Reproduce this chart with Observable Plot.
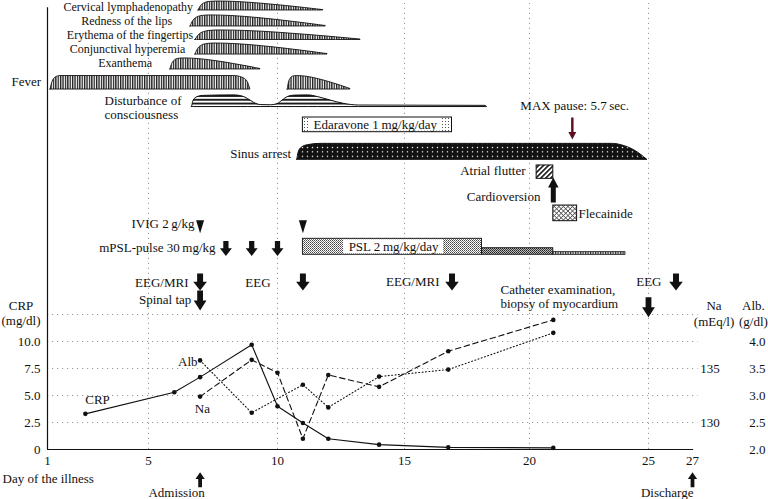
<!DOCTYPE html>
<html><head><meta charset="utf-8">
<script src="https://cdn.jsdelivr.net/npm/d3@7"></script>
<script src="https://cdn.jsdelivr.net/npm/@observablehq/plot@0.6"></script>
<style>
html,body{margin:0;padding:0;background:#fff;}
#chart{width:768px;height:499px;overflow:hidden;}
</style></head><body><div id="chart"></div>
<script>
// ================= DATA =================
const xTicks = [1, 5, 10, 15, 20, 25, 27];          // day-of-illness tick labels
const crpTicks = [0, 2.5, 5, 7.5, 10];
const naTicks = [130, 135];
const albTicks = [2.0, 2.5, 3.0, 3.5, 4.0];

const crpDays = [2.5, 6, 7, 9, 10, 11, 12, 14, 16.75, 21];
const crpValues = [3.3, 5.3, 6.7, 9.7, 4.0, 2.45, 1.0, 0.45, 0.2, 0.15];
const naDays = [7, 9, 10, 11, 12, 14, 16.75, 21];
const naValues = [132.4, 135.8, 134.6, 128.5, 134.4, 133.3, 136.6, 139.5];
const albDays = [7, 9, 11, 12, 14, 16.75, 21];
const albValues = [3.65, 2.68, 3.2, 2.78, 3.35, 3.48, 4.16];

const symptomNames = ["Cervical lymphadenopathy", "Redness of the lips", "Erythema of the fingertips",
  "Conjunctival hyperemia", "Exanthema", "Fever", "Fever"];
const symptomStart = [6.94, 6.63, 6.82, 6.82, 5.85, 1.12, 10.4];
const symptomEnd = [11.8, 11.9, 13.27, 11.97, 9.34, 8.95, 12.87];
const symptomCourse = ["taper", "taper", "taper", "taper", "taper", "plateau", "taper"];

// relative intensity course: [fraction of episode, fraction of full intensity]
const taperCourse = [[0,0],[0.02,0.5],[0.05,0.82],[0.09,0.96],[0.15,1],[0.3,0.95],[0.5,0.76],[0.7,0.5],[0.85,0.28],[0.95,0.12],[1,0.04]];
const plateauCourse = [[0,0],[0.01,0.55],[0.025,0.88],[0.05,1],[0.92,1],[0.96,0.88],[0.985,0.6],[1,0]];

const consciousnessDays = [6.69,6.75,6.9,7.1,8.3,8.6,8.85,9.1,9.35,9.75,10.0,10.2,10.4,10.7,11.2,11.6,12.1,12.6,13.2,18.25,18.3];
const consciousnessLevel = [0,0.55,0.85,0.95,1,0.93,0.7,0.35,0.17,0.15,0.25,0.55,0.85,0.98,1,0.85,0.55,0.28,0.13,0.1,0];
const sinusDays = [10.78,10.83,10.95,11.2,11.7,23.5,23.9,24.4,24.95];
const sinusLevel = [0,0.45,0.75,0.92,1,1,0.9,0.6,0];

const edaravone = {start: 11, end: 16.9};
const pslStart = [11, 18.1, 21];
const pslEnd = [18.1, 21, 24.03];
const pslDoseLevel = [1, 0.41, 0.16];
const flutter = {start: 20.3, end: 21};
const flecainide = {start: 21, end: 22};
const maxPauseDay = 21.8;
const cardioversionDay = 21;
const ivigDays = [7, 11];
const mpslDays = [8, 9, 10];
const examLabels = ["EEG/MRI", "EEG", "EEG/MRI", "EEG"];
const examDays = [7, 11, 16.9, 26.25];
const spinalTapDay = 7;
const catheterDay = 25;
const admissionDay = 7;
const dischargeDay = 27;

// ================= LAYOUT (axis units) =================
const X_PIX = [47, 148, 277, 404, 529, 648, 692];
const Y_TOP = 449 / 10.8;
const naToAxis = v => v - 127.5;
const albToAxis = v => (v - 2) * 5;
const rowLayout = {
  "Cervical lymphadenopathy": {base: 40.65, h: 0.83},
  "Redness of the lips": {base: 39.17, h: 1.02},
  "Erythema of the fingertips": {base: 37.92, h: 0.88},
  "Conjunctival hyperemia": {base: 36.57, h: 1.02},
  "Exanthema": {base: 35.19, h: 1.02},
  "Fever": {base: 33.33, h: 1.25}
};
const consciousnessRow = {base: 31.71, h: 1.08};
const sinusRow = {base: 26.82, h: 1.48};

const symptomPoints = symptomNames.flatMap((name, i) => {
  const course = symptomCourse[i] === "plateau" ? plateauCourse : taperCourse;
  const L = rowLayout[name];
  return course.map(([t, f]) => ({id: i, x: symptomStart[i] + t * (symptomEnd[i] - symptomStart[i]), y1: L.base, y2: L.base + f * L.h}));
});
const consciousnessPoints = consciousnessDays.map((d, i) => ({x: d, y1: consciousnessRow.base, y2: consciousnessRow.base + consciousnessLevel[i] * consciousnessRow.h}));
const sinusPoints = sinusDays.map((d, i) => ({x: d, y1: sinusRow.base, y2: sinusRow.base + sinusLevel[i] * sinusRow.h}));

const crpData = crpDays.map((d, i) => ({x: d, y: crpValues[i]}));
const naData = naDays.map((d, i) => ({x: d, y: naToAxis(naValues[i])}));
const albData = albDays.map((d, i) => ({x: d, y: albToAxis(albValues[i])}));

const pslBase = 18.03, pslFull = 1.48;
const pslRects = pslStart.map((s, i) => ({x1: s, x2: pslEnd[i], y1: pslBase, y2: pslBase + pslDoseLevel[i] * pslFull, fill: ["url(#psl1)", "url(#psl2)", "url(#psl3)"][i]}));

// custom arrow symbols (unit length 2r)
function arrowSym(dir, headHalf, shaftHalf, headLen) {
  return {draw(ctx, size) {
    const r = Math.sqrt(size / Math.PI);
    const hb = 1 - 2 * headLen;
    const pts = [[-shaftHalf,-1],[shaftHalf,-1],[shaftHalf,hb],[headHalf,hb],[0,1],[-headHalf,hb],[-shaftHalf,hb]];
    pts.forEach(([px, py], i) => { const X = px * r, Y = py * r * dir; i ? ctx.lineTo(X, Y) : ctx.moveTo(X, Y); });
    ctx.closePath();
  }};
}
const triDown = {draw(ctx, size) {
  const r = Math.sqrt(size / Math.PI);
  ctx.moveTo(-0.62 * r, -r); ctx.lineTo(0.62 * r, -r); ctx.lineTo(0, r); ctx.closePath();
}};
const wideDown = arrowSym(1, 0.8, 0.35, 0.52);
const tallDown = arrowSym(1, 0.64, 0.29, 0.5);
const smallUp = arrowSym(-1, 0.62, 0.25, 0.45);
const longUp = arrowSym(-1, 0.42, 0.2, 0.4);
const thinDown = arrowSym(1, 0.36, 0.11, 0.34);

const symptomLabels = [
  {t: symptomNames[0], x: 6.73, y: 40.94},
  {t: symptomNames[1], x: 5.92, y: 39.65},
  {t: symptomNames[2], x: 6.73, y: 38.35},
  {t: symptomNames[3], x: 6.43, y: 37.06},
  {t: symptomNames[4], x: 5.14, y: 35.76}
];
const labelsEnd = [
  {t: "Fever", x: 0.75, y: 34.07},
  {t: "Sinus arrest", x: 10.54, y: 27.38},
  {t: "Atrial flutter", x: 19.84, y: 25.83},
  {t: "Cardioversion", x: 20.46, y: 23.36},
  {t: "IVIG 2\u2009g/kg", x: 6.78, y: 20.93},
  {t: "mPSL-pulse 30\u2009mg/kg", x: 7.6, y: 18.7},
  {t: examLabels[0], x: 6.55, y: 15.46},
  {t: examLabels[1], x: 9.73, y: 15.46},
  {t: examLabels[2], x: 16.4, y: 15.56},
  {t: examLabels[3], x: 25.59, y: 15.56},
  {t: "Spinal tap", x: 6.66, y: 13.89},
  {t: "Alb", x: 6.9, y: 8.15}
];
const labelsStart = [
  {t: "Disturbance of\nconsciousness", x: 3.26, y: 31.67},
  {t: "Flecainide", x: 22.06, y: 21.85},
  {t: "Catheter examination,\nbiopsy of myocardium", x: 18.84, y: 14.17},
  {t: "Day of the illness", x: -0.78, y: -2.69}
];
const labelsMiddle = [
  {t: "MAX pause: 5.7\u2009sec.", x: 21.9, y: 31.9},
  {t: "CRP\n(mg/dl)", x: -0.05, y: 12.69},
  {t: "Na\n(mEq/l)", x: 27.98, y: 12.65},
  {t: "Alb.\n(g/dl)", x: 29.77, y: 12.65},
  {t: "CRP", x: 2.98, y: 4.63},
  {t: "Na", x: 7.09, y: 3.8},
  {t: "Admission", x: 6.09, y: -3.98},
  {t: "Discharge", x: 25.85, y: -3.98}
];

const dotted = {stroke: "#9a9a9a", strokeWidth: 1, strokeDasharray: "1.2 3.8"};
const ink = "#111";

const svg = Plot.plot({
  width: 768, height: 499,
  marginLeft: 47, marginRight: 76, marginTop: 0, marginBottom: 50,
  x: {type: "linear", domain: xTicks, range: X_PIX, axis: null},
  y: {domain: [0, Y_TOP], axis: null},
  style: {fontFamily: "'Liberation Serif', 'DejaVu Serif', serif", fontSize: "13px", background: "white", color: ink, overflow: "visible"},
  marks: [
    Plot.ruleX([5, 10, 15, 20, 25], {y1: 0, y2: 41.3, ...dotted}),
    Plot.ruleY([2.5, 5, 7.5, 10, 12.5], {x1: 1, x2: 27.25, ...dotted}),
    Plot.ruleX([1], {y1: 0, y2: 40.9, stroke: ink, strokeWidth: 1.2}),
    Plot.ruleY([0], {x1: 1, x2: 27.05, stroke: ink, strokeWidth: 1.2}),

    // symptoms
    Plot.area(symptomPoints, {x1: "x", y1: "y1", y2: "y2", z: "id", fill: "url(#vhatch)", stroke: ink, strokeWidth: 0.9, curve: "monotone-x"}),
    Plot.area(consciousnessPoints, {x1: "x", y1: "y1", y2: "y2", fill: "url(#hstripe)", stroke: ink, strokeWidth: 1, curve: "monotone-x"}),
    Plot.area(sinusPoints, {x1: "x", y1: "y1", y2: "y2", fill: "url(#blackdots)", stroke: ink, strokeWidth: 1, curve: "monotone-x"}),

    // edaravone
    Plot.rect([edaravone], {x1: "start", x2: "end", y1: 29.38, y2: 30.74, fill: "url(#sparsedots)", stroke: ink, strokeWidth: 1}),
    Plot.rect([edaravone], {x1: 11.3, x2: 16.5, y1: 29.38, y2: 30.74, insetTop: 1, insetBottom: 1, fill: "white"}),
    Plot.text([edaravone], {x: 13.85, y: 30.06, text: () => "Edaravone 1\u2009mg/kg/day"}),

    // PSL
    Plot.rect(pslRects, {x1: "x1", x2: "x2", y1: "y1", y2: "y2", fill: d => d.fill, stroke: ink, strokeWidth: 0.9}),
    Plot.rect([pslRects[0]], {x1: 12.6, x2: 16.56, y1: "y1", y2: "y2", insetTop: 1, insetBottom: 1, fill: "white"}),
    Plot.text([pslRects[0]], {x: 14.57, y: 18.8, text: () => "PSL 2\u2009mg/kg/day"}),

    // arrhythmia treatment
    Plot.rect([flutter], {x1: "start", x2: "end", y1: 25.06, y2: 26.3, fill: "url(#diag)", stroke: ink, strokeWidth: 1}),
    Plot.rect([flecainide], {x1: "start", x2: "end", y1: 21.14, y2: 22.59, fill: "url(#cross)", stroke: ink, strokeWidth: 1}),
    Plot.dot([maxPauseDay], {x: d => d, y: 29.72, r: 11, symbol: thinDown, fill: "#5b0f1c", stroke: "none"}),
    Plot.dot([cardioversionDay], {x: d => d, y: 24.03, r: 12.5, symbol: longUp, fill: ink, stroke: "none"}),

    // IVIG, mPSL, exams
    Plot.dot(ivigDays, {x: d => d, y: 20.62, r: 6.5, symbol: triDown, fill: ink, stroke: "none"}),
    Plot.dot(mpslDays, {x: d => d, y: 18.61, r: 7.5, symbol: wideDown, fill: ink, stroke: "none"}),
    Plot.dot(examDays, {x: d => d, y: 15.51, r: 8.5, symbol: wideDown, fill: ink, stroke: "none"}),
    Plot.dot([spinalTapDay], {x: d => d, y: 13.8, r: 10, symbol: tallDown, fill: ink, stroke: "none"}),
    Plot.dot([catheterDay], {x: d => d, y: 13.18, r: 10, symbol: tallDown, fill: ink, stroke: "none"}),
    Plot.dot([admissionDay, dischargeDay], {x: d => d, y: -2.8, r: 7.5, symbol: smallUp, fill: ink, stroke: "none"}),

    // lab values
    Plot.line(crpData, {x: "x", y: "y", stroke: ink, strokeWidth: 1.1}),
    Plot.line(naData, {x: "x", y: "y", stroke: ink, strokeWidth: 1.1, strokeDasharray: "5.5 3.5"}),
    Plot.line(albData, {x: "x", y: "y", stroke: ink, strokeWidth: 1.1, strokeDasharray: "1 2.4"}),
    Plot.dot([...crpData, ...naData, ...albData], {x: "x", y: "y", r: 2.3, fill: ink, stroke: "none"}),

    // tick labels
    Plot.text(xTicks, {x: d => d, y: 0, dy: 11.5, text: d => String(d)}),
    Plot.text(crpTicks, {x: 1, y: d => d, dx: -7, textAnchor: "end", text: d => d === 0 ? "0" : d.toFixed(1)}),
    Plot.text(naTicks, {x: 27.8, y: d => naToAxis(d), text: d => String(d)}),
    Plot.text(albTicks, {x: 29.95, y: d => albToAxis(d), text: d => d.toFixed(1)}),

    // labels
    Plot.text(symptomLabels, {x: "x", y: "y", text: "t", textAnchor: "end", fontSize: 12}),
    Plot.text(labelsEnd, {x: "x", y: "y", text: "t", textAnchor: "end"}),
    Plot.text(labelsStart, {x: "x", y: "y", text: "t", textAnchor: "start", lineHeight: 1.1}),
    Plot.text(labelsMiddle, {x: "x", y: "y", text: "t", textAnchor: "middle", lineHeight: 1.2})
  ]
});

const defs = document.createElementNS("http://www.w3.org/2000/svg", "defs");
defs.innerHTML = `
<pattern id="vhatch" patternUnits="userSpaceOnUse" width="2.4" height="4"><rect width="2.4" height="4" fill="#fff"/><rect width="1.3" height="4" fill="#1a1a1a"/></pattern>
<pattern id="hstripe" patternUnits="userSpaceOnUse" width="4" height="3.8"><rect width="4" height="3.8" fill="#fff"/><rect width="4" height="1.9" fill="#1a1a1a"/></pattern>
<pattern id="blackdots" patternUnits="userSpaceOnUse" width="5" height="4.4"><rect width="5" height="4.4" fill="#111"/><circle cx="2.5" cy="2.2" r="0.75" fill="#fff"/></pattern>
<pattern id="sparsedots" patternUnits="userSpaceOnUse" width="3" height="3"><rect width="3" height="3" fill="#fff"/><circle cx="1.5" cy="1.5" r="0.55" fill="#333"/></pattern>
<pattern id="psl1" patternUnits="userSpaceOnUse" width="2" height="2"><rect width="2" height="2" fill="#fff"/><rect width="1" height="1" fill="#444"/><rect x="1" y="1" width="1" height="1" fill="#777"/></pattern>
<pattern id="psl2" patternUnits="userSpaceOnUse" width="2" height="2"><rect width="2" height="2" fill="#bbb"/><rect width="1" height="1" fill="#222"/><rect x="1" y="1" width="1" height="1" fill="#444"/></pattern>
<pattern id="psl3" patternUnits="userSpaceOnUse" width="2.5" height="3"><rect width="2.5" height="3" fill="#fff"/><rect width="1.2" height="3" fill="#333"/></pattern>
<pattern id="diag" patternUnits="userSpaceOnUse" width="3.5" height="3.5" patternTransform="rotate(45)"><rect width="3.5" height="3.5" fill="#fff"/><rect width="1.6" height="3.5" fill="#111"/></pattern>
<pattern id="cross" patternUnits="userSpaceOnUse" width="3.2" height="3.2" patternTransform="rotate(45)"><rect width="3.2" height="3.2" fill="#fff"/><rect width="0.8" height="3.2" fill="#555"/><rect width="3.2" height="0.8" fill="#555"/></pattern>`;
svg.insertBefore(defs, svg.firstChild);
document.getElementById("chart").appendChild(svg);
</script></body></html>
